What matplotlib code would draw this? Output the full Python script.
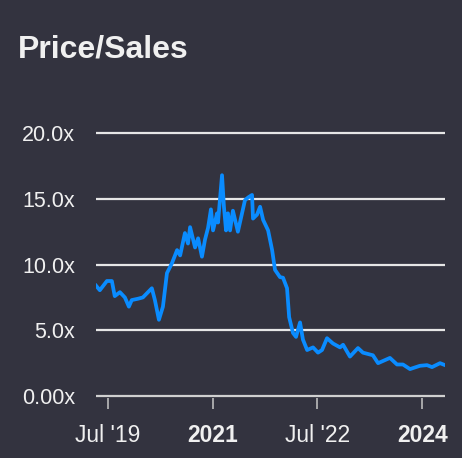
import matplotlib
matplotlib.use("Agg")
import matplotlib.pyplot as plt
import pandas as pd

# price / sales multiple
dates = ["2019-05-01", "2019-05-21", "2019-06-27", "2019-07-23", "2019-08-07",
         "2019-09-03", "2019-09-29", "2019-10-20", "2019-11-04", "2019-12-06",
         "2020-01-01", "2020-02-17", "2020-03-04", "2020-03-25", "2020-04-15",
         "2020-05-06", "2020-06-01", "2020-06-28", "2020-07-14", "2020-08-08",
         "2020-08-24", "2020-09-04", "2020-09-30", "2020-10-16", "2020-11-05",
         "2020-11-21", "2020-12-07", "2020-12-22", "2021-01-02", "2021-01-23",
         "2021-01-28", "2021-02-18", "2021-02-28", "2021-03-11", "2021-03-21",
         "2021-04-01", "2021-04-16", "2021-05-12", "2021-06-18", "2021-07-04",
         "2021-07-25", "2021-07-30", "2021-08-20", "2021-09-05", "2021-09-21",
         "2021-10-17", "2021-11-07", "2021-11-22", "2021-12-18", "2022-01-03",
         "2022-01-24", "2022-02-04", "2022-02-24", "2022-03-12", "2022-04-02",
         "2022-04-17", "2022-05-09", "2022-06-09", "2022-07-05", "2022-07-26",
         "2022-08-21", "2022-09-21", "2022-10-28", "2022-11-13", "2022-12-19",
         "2023-01-30", "2023-02-25", "2023-04-18", "2023-05-15", "2023-07-16",
         "2023-08-22", "2023-09-22", "2023-10-29", "2023-12-20", "2024-01-26",
         "2024-02-21", "2024-04-03", "2024-04-29"]
ps = [8.4, 8.05, 8.75, 8.75, 7.6,
      7.9, 7.5, 6.8, 7.3, 7.4,
      7.5, 8.2, 7.3, 5.8, 6.8,
      9.35, 10.1, 11.1, 10.7, 12.4,
      11.6, 12.85, 11.3, 12.0, 10.6,
      11.9, 12.8, 14.2, 12.6, 13.9,
      13.2, 16.8, 14.4, 12.6, 13.9,
      12.6, 14.1, 12.5, 14.9, 15.1,
      15.3, 13.5, 13.8, 14.4, 13.4,
      12.6, 11.1, 9.6, 9.05, 9.0,
      8.2, 6.0, 4.8, 4.5, 5.6,
      4.3, 3.5, 3.7, 3.3, 3.5,
      4.4, 4.0, 3.7, 3.9, 3.0,
      3.65, 3.3, 3.1, 2.5, 2.9,
      2.4, 2.4, 2.05, 2.3, 2.35,
      2.2, 2.5, 2.35]

yticks = [0, 5, 10, 15, 20]
ylabels = ["0.00x", "5.0x", "10.0x", "15.0x", "20.0x"]
xticks = ["2019-07-01", "2021-01-01", "2022-07-01", "2024-01-01"]
xlabels = ["Jul '19", "2021", "Jul '22", "2024"]
bold_labels = ["2021", "2024"]

bg = "#33333f"
plt.rcParams["font.family"] = ["Liberation Sans", "DejaVu Sans"]

fig = plt.figure(figsize=(4.62, 4.58), dpi=100, facecolor=bg)
ax = fig.add_axes([96 / 462, 60 / 458, 349 / 462, 278 / 458], facecolor=bg)

x = pd.to_datetime(dates)
ax.plot(x, ps, color="#0a8cff", linewidth=2.7, solid_joinstyle="round", zorder=3)

for v in yticks:
    ax.axhline(v, color="#e6e6e6" if v else "#d0d0d0", linewidth=1.6, zorder=1)

ax.set_xlim(pd.Timestamp("2019-05-01"), pd.Timestamp("2024-04-29"))
ax.set_ylim(-0.15, 21)

ax.set_yticks(yticks)
ax.set_yticklabels(ylabels)
ax.tick_params(axis="y", length=0, pad=15, labelsize=15.5, labelcolor="#f0f0f0")

ax.set_xticks(pd.to_datetime(xticks))
ax.set_xticklabels(xlabels)
ax.tick_params(axis="x", length=8, width=1.2, color="#bbbbbb", pad=11,
               labelsize=16.5, labelcolor="#f0f0f0")
for lab in ax.get_xticklabels():
    if lab.get_text() in bold_labels:
        lab.set_fontweight("bold")

for s in ax.spines.values():
    s.set_visible(False)

fig.text(18 / 462, 1 - 57 / 458, "Price/Sales", color="#f0f0f0", fontsize=23,
         fontweight="bold", va="baseline", ha="left")

fig.savefig("out.png", dpi=100, facecolor=bg)
